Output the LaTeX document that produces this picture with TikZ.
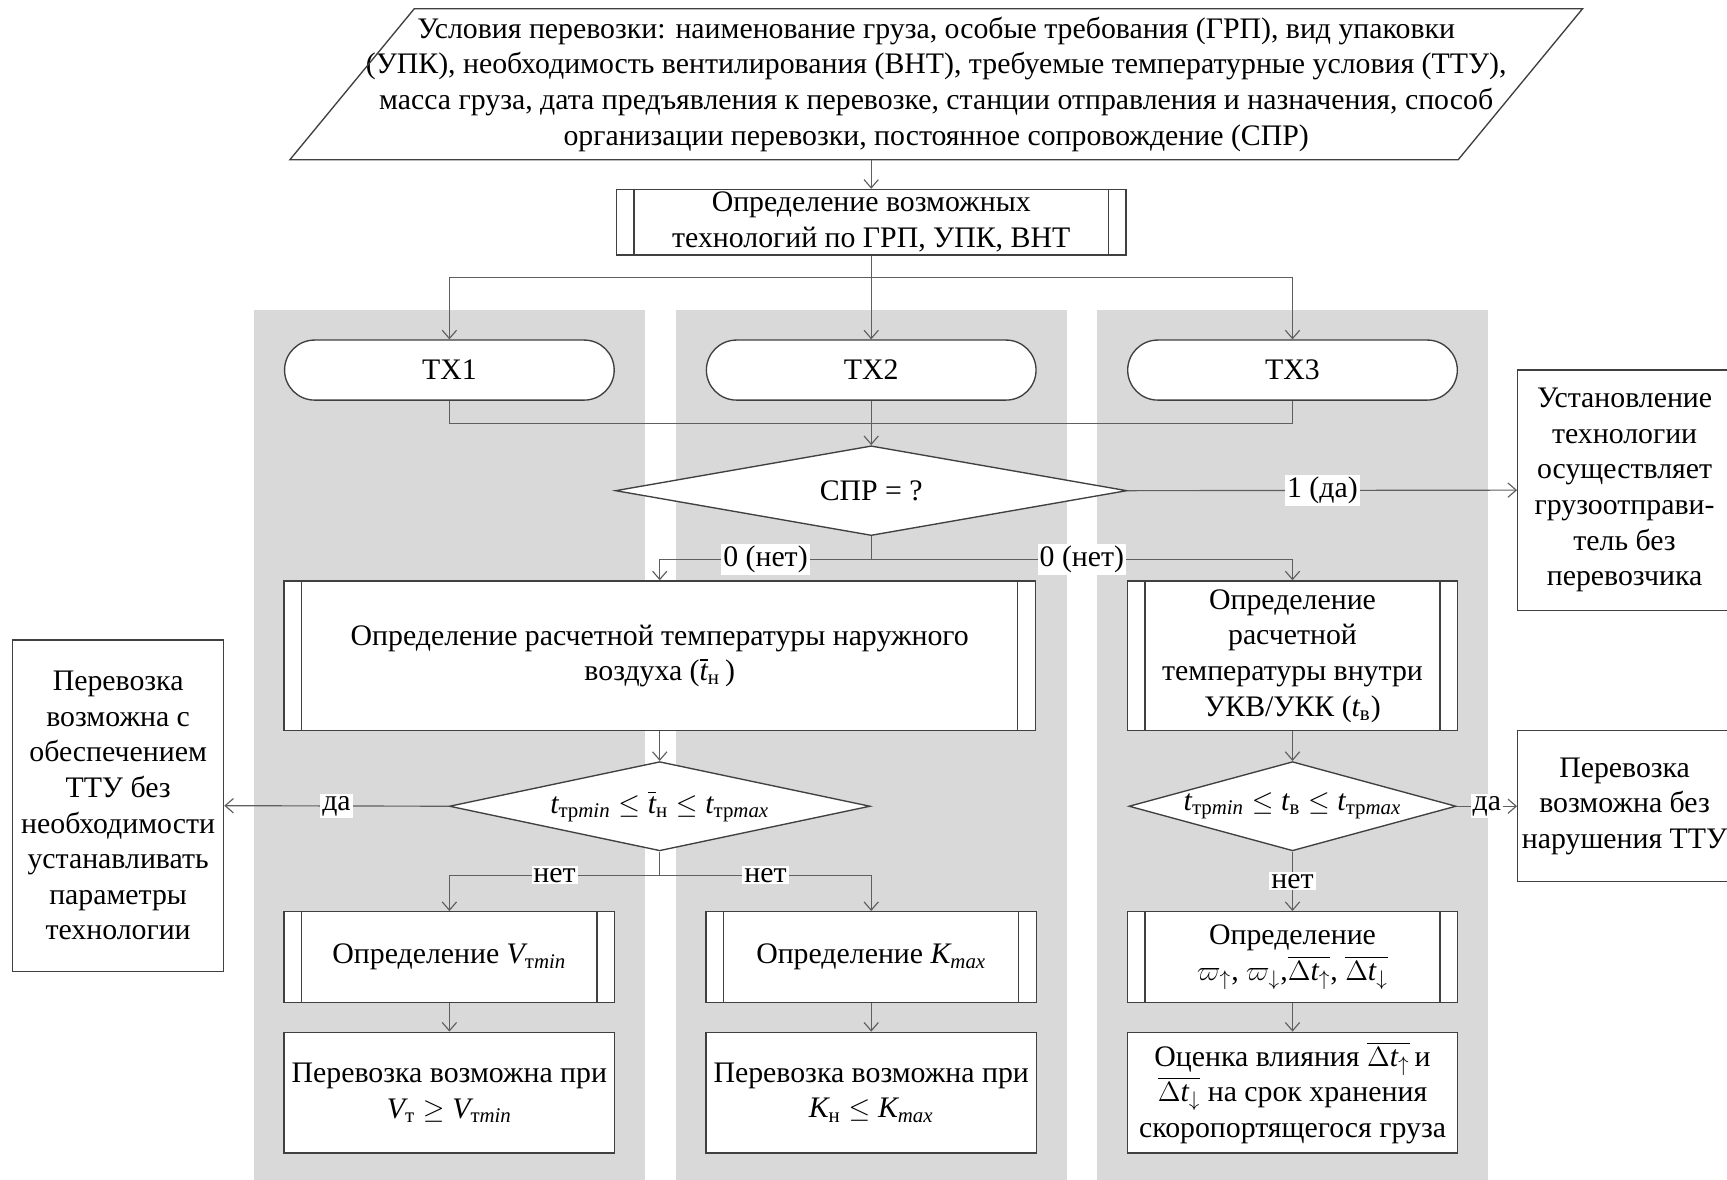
\documentclass[tikz,border=0pt]{standalone}
\usepackage{amsmath}
\usepackage{fontspec}
\setmainfont{Liberation Serif}
\usepackage{tikz}
\usetikzlibrary{arrows.meta,positioning,calc,shapes.geometric,shapes.misc}
\definecolor{lanegray}{HTML}{D9D9D9}
\definecolor{edgegray}{HTML}{404040}
\definecolor{wiregray}{HTML}{5F5F5F}
\newcommand{\mv}[1]{\textit{#1}}

\begin{document}
\begin{tikzpicture}[
    x=1cm,y=1cm,
    txt/.style    = {font=\fontsize{15.4}{18.4}\selectfont,align=center,text=black},
    blk/.style    = {txt,rectangle,draw=edgegray,line width=0.7pt,fill=white,inner sep=1pt},
    proc/.style   = {blk,path picture={
                       \draw[edgegray,line width=0.7pt]
                         ([xshift=0.32cm]path picture bounding box.north west) --
                         ([xshift=0.32cm]path picture bounding box.south west)
                         ([xshift=-0.32cm]path picture bounding box.north east) --
                         ([xshift=-0.32cm]path picture bounding box.south east);}},
    term/.style   = {txt,rounded rectangle,draw=edgegray,line width=0.7pt,fill=white,
                     minimum width=6.22cm,minimum height=1.09cm},
    dec/.style    = {txt,diamond,draw=edgegray,line width=0.7pt,fill=white,inner sep=0pt},
    io/.style     = {txt,rectangle,inner sep=0pt,minimum width=21.2cm,minimum height=2.73cm},
    fl/.style     = {-{Straight Barb[length=1.5mm,width=2.6mm]},wiregray,line width=0.6pt},
    ln/.style     = {wiregray,line width=0.6pt},
    lab/.style    = {txt,fill=white,inner sep=1pt},
  ]

  \useasboundingbox (0,0) rectangle (31.36,-21.42);

  % полосы технологий
  \foreach \cx in {8.17,15.83,23.47}
    \fill[lanegray] (\cx-3.55,-5.63) rectangle (\cx+3.55,-21.42);

  % исходные данные (параллелограмм)
  \node[io] (inp) at (17.0,-1.53)
    {Условия перевозки: наименование груза, особые требования (ГРП), вид упаковки\\
     (УПК), необходимость вентилирования (ВНТ), требуемые температурные условия (ТТУ),\\
     масса груза, дата предъявления к перевозке, станции отправления и назначения, способ\\
     организации перевозки, постоянное сопровождение (СПР)};
  \draw[edgegray,line width=0.7pt]
    ($(inp.south west)+(-1.13,0)$) -- ($(inp.south east)+(-1.13,0)$) --
    ($(inp.north east)+(1.13,0)$) -- ($(inp.north west)+(1.13,0)$) -- cycle;

  \node[proc,minimum width=9.25cm,minimum height=1.19cm] (tech) at (15.82,-4.035)
    {Определение возможных\\ технологий по ГРП, УПК, ВНТ};

  \node[term] (tx1) at (8.16,-6.72)  {ТХ1};
  \node[term] (tx2) at (15.82,-6.72) {ТХ2};
  \node[term] (tx3) at (23.47,-6.72) {ТХ3};

  \node[dec,minimum width=9.29cm,minimum height=1.63cm,shape aspect=5.7] (spr) at (15.82,-8.91) {СПР = ?};
  \node[blk,minimum width=3.88cm,minimum height=4.36cm] (ship) at (29.5,-8.90)
    {Установление\\ технологии\\ осуществляет\\ грузоотправи-\\ тель без\\ перевозчика};

  \node[proc,minimum width=13.64cm,minimum height=2.72cm] (tn) at (11.98,-11.91)
    {Определение расчетной температуры наружного\\ воздуха ($\overline{\mv{t}}_{\text{н}}$\,)};
  \node[proc,minimum width=6cm,minimum height=2.72cm] (tv) at (23.47,-11.91)
    {Определение\\ расчетной\\ температуры внутри\\ УКВ/УКК ($\mv{t}_{\text{в}}$)};

  \node[dec,minimum width=7.64cm,minimum height=1.62cm,shape aspect=4.7] (dn) at (11.98,-14.64)
    {$\mv{t}_{\text{тр}\mv{min}}\le\overline{\mv{t}}_{\text{н}}\le \mv{t}_{\text{тр}\mv{max}}$};
  \node[dec,minimum width=5.94cm,minimum height=1.62cm,shape aspect=3.7] (dv) at (23.47,-14.64)
    {$\mv{t}_{\text{тр}\mv{min}}\le \mv{t}_{\text{в}}\le \mv{t}_{\text{тр}\mv{max}}$};

  \node[blk,minimum width=3.83cm,minimum height=6.02cm] (ok1) at (2.145,-14.63)
    {Перевозка\\ возможна с\\ обеспечением\\ ТТУ без\\ необходимости\\ устанавливать\\ параметры\\ технологии};
  \node[blk,minimum width=3.88cm,minimum height=2.74cm] (ok2) at (29.5,-14.64)
    {Перевозка\\ возможна без\\ нарушения ТТУ};

  \node[proc,minimum width=6cm,minimum height=1.65cm] (vmin) at (8.16,-17.38)
    {Определение $\mv{V}_{\text{т}\mv{min}}$};
  \node[proc,minimum width=6cm,minimum height=1.65cm] (kmax) at (15.82,-17.38)
    {Определение $\mv{K}_{\mv{max}}$};
  \node[proc,minimum width=6cm,minimum height=1.65cm] (wt) at (23.47,-17.38)
    {Определение\\ $\varpi_{\uparrow}$, $\varpi_{\downarrow}$,$\overline{\Delta \mv{t}_{\uparrow}}$, $\overline{\Delta \mv{t}_{\downarrow}}$};

  \node[blk,minimum width=6cm,minimum height=2.19cm] (vres) at (8.16,-19.84)
    {Перевозка возможна при\\ $\mv{V}_{\text{т}}\ge \mv{V}_{\text{т}\mv{min}}$};
  \node[blk,minimum width=6cm,minimum height=2.19cm] (kres) at (15.82,-19.84)
    {Перевозка возможна при\\ $\mv{K}_{\text{н}}\le \mv{K}_{\mv{max}}$};
  \node[blk,minimum width=6cm,minimum height=2.19cm] (est) at (23.47,-19.84)
    {Оценка влияния $\overline{\Delta \mv{t}_{\uparrow}}$\,и\\ $\overline{\Delta \mv{t}_{\downarrow}}$ на срок хранения\\ скоропортящегося груза};

  % связи
  \draw[fl] (tech.north |- inp.south) -- (tech.north);
  \draw[ln] (tech.south) -- ++(0,-0.39) coordinate (split);
  \draw[fl] (split) -| (tx1.north);
  \draw[fl] (split) -- (tx2.north);
  \draw[fl] (split) -| (tx3.north);

  \coordinate (join) at ($(tx2.south)+(0,-0.42)$);
  \draw[ln] (tx1.south) |- (join) -| (tx3.south);
  \draw[ln] (tx2.south) -- (join);
  \draw[fl] (join) -- (spr.north);

  \draw[fl] (spr.east) -- node[lab] {1 (да)} (ship.west);
  \draw[ln] (spr.south) -- ++(0,-0.415) coordinate (fork);
  \draw[fl] (fork) -| node[lab,pos=0.25] {0 (нет)} (tn.north);
  \draw[fl] (fork) -| node[lab,pos=0.25] {0 (нет)} (tv.north);

  \draw[fl] (tn.south) -- (dn.north);
  \draw[fl] (dn.west) -- node[lab] {да} (ok1.east);
  \draw[ln] (dn.south) -- ++(0,-0.43) coordinate (fork2);
  \draw[fl] (fork2) -| node[lab,pos=0.25] {нет} (vmin.north);
  \draw[fl] (fork2) -| node[lab,pos=0.25] {нет} (kmax.north);

  \draw[fl] (tv.south) -- (dv.north);
  \draw[fl] (dv.east) -- node[lab] {да} (ok2.west);
  \draw[fl] (dv.south) -- node[lab] {нет} (wt.north);

  \draw[fl] (vmin) -- (vres);
  \draw[fl] (kmax) -- (kres);
  \draw[fl] (wt)   -- (est);

\end{tikzpicture}
\end{document}
